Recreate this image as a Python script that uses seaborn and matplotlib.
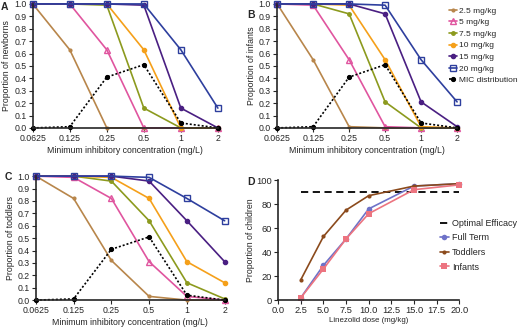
import matplotlib
matplotlib.use('Agg')
import matplotlib.pyplot as plt
import pandas as pd
import seaborn as sns

sns.set_style('ticks')
plt.rcParams['font.family'] = ['Liberation Sans', 'DejaVu Sans']

# MIC categories (mg/L)
mic = [0.0625, 0.125, 0.25, 0.5, 1, 2]
mic_labels = ['0.0625', '0.125', '0.25', '0.5', '1', '2']
doses = ['2.5 mg/kg', '5 mg/kg', '7.5 mg/kg', '10 mg/kg', '15 mg/kg', '20 mg/kg']

# MIC distribution (same in A-C)
mic_dist = [0.0, 0.01, 0.41, 0.51, 0.04, 0.0]

# Panel A: newborns
newborns = {
    '2.5 mg/kg': [1.0, 0.63, 0.0, 0.0, 0.0, 0.0],
    '5 mg/kg': [1.0, 1.0, 0.63, 0.0, 0.0, 0.0],
    '7.5 mg/kg': [1.0, 1.0, 0.99, 0.16, 0.0, 0.0],
    '10 mg/kg': [1.0, 1.0, 1.0, 0.63, 0.0, 0.0],
    '15 mg/kg': [1.0, 1.0, 1.0, 0.99, 0.16, 0.0],
    '20 mg/kg': [1.0, 1.0, 1.0, 1.0, 0.63, 0.16],
}
# Panel B: infants
infants = {
    '2.5 mg/kg': [1.0, 0.55, 0.01, 0.0, 0.0, 0.0],
    '5 mg/kg': [1.0, 0.99, 0.55, 0.01, 0.0, 0.0],
    '7.5 mg/kg': [1.0, 1.0, 0.92, 0.21, 0.0, 0.0],
    '10 mg/kg': [1.0, 1.0, 0.99, 0.55, 0.01, 0.0],
    '15 mg/kg': [1.0, 1.0, 1.0, 0.92, 0.21, 0.01],
    '20 mg/kg': [1.0, 1.0, 1.0, 0.99, 0.55, 0.21],
}
# Panel C: toddlers
toddlers = {
    '2.5 mg/kg': [1.0, 0.82, 0.32, 0.03, 0.0, 0.0],
    '5 mg/kg': [1.0, 0.99, 0.82, 0.31, 0.03, 0.0],
    '7.5 mg/kg': [1.0, 1.0, 0.96, 0.64, 0.14, 0.01],
    '10 mg/kg': [1.0, 1.0, 0.99, 0.82, 0.31, 0.14],
    '15 mg/kg': [1.0, 1.0, 1.0, 0.96, 0.64, 0.31],
    '20 mg/kg': [1.0, 1.0, 1.0, 0.99, 0.82, 0.64],
}

# Panel D: proportion of children reaching target vs dose
dose_d = [2.5, 5.0, 7.5, 10.0, 15.0, 20.0]
full_term = [2, 29, 51, 76, 95, 97]
toddlers_d = [17, 53, 75, 87, 95, 97]
infants_d = [2, 26, 51, 72, 92, 96]
optimal_x = [2.5, 20.0]
optimal_y = [90, 90]

dose_style = {
    '2.5 mg/kg': dict(color='#B8864B', marker='o', ms=2, mfc='#B8864B'),
    '5 mg/kg': dict(color='#E0559F', marker='^', ms=5, mfc='none'),
    '7.5 mg/kg': dict(color='#8C9A1E', marker='o', ms=2.5, mfc='#8C9A1E'),
    '10 mg/kg': dict(color='#F5A01A', marker='o', ms=3, mfc='#F5A01A'),
    '15 mg/kg': dict(color='#4A1F82', marker='o', ms=3, mfc='#4A1F82'),
    '20 mg/kg': dict(color='#2E3F9E', marker='s', ms=5, mfc='none'),
}

fig = plt.figure(figsize=(5.2, 3.28), dpi=100)
fs = 6.3


def mic_panel(ax, data, ylabel):
    for d in doses:
        st = dose_style[d]
        sns.lineplot(x=mic, y=data[d], ax=ax, color=st['color'], lw=1.2,
                     marker=st['marker'], markersize=st['ms'],
                     markerfacecolor=st['mfc'], markeredgecolor=st['color'],
                     markeredgewidth=1, clip_on=False, label=d)
    sns.lineplot(x=mic, y=mic_dist, ax=ax, color='black', lw=1.2,
                 linestyle=(0, (1.2, 1.2)), marker='o', markersize=3,
                 markerfacecolor='black', markeredgecolor='black',
                 clip_on=False, label='MIC distribution')
    ax.set_xscale('log', base=2)
    ax.set_xlim(0.0625, 2)
    ax.set_ylim(0, 1.0)
    ax.set_xticks(mic)
    ax.set_xticklabels(mic_labels)
    ax.minorticks_off()
    ax.set_yticks([i / 10 for i in range(11)])
    ax.set_yticklabels([f'{i / 10:.1f}' for i in range(11)])
    ax.tick_params(labelsize=fs, length=3, width=0.8, pad=1.5)
    ax.set_xlabel('Minimum inhibitory concentration (mg/L)', fontsize=fs, labelpad=2)
    ax.set_ylabel(ylabel, fontsize=fs, labelpad=2)
    for s in ['left', 'bottom']:
        ax.spines[s].set_linewidth(1.2)
    sns.despine(ax=ax)


axA = fig.add_axes([0.063, 0.61, 0.356, 0.378])
mic_panel(axA, newborns, 'Proportion of newborns')
axA.get_legend().remove()

axB = fig.add_axes([0.533, 0.61, 0.346, 0.378])
mic_panel(axB, infants, 'Proportion of infants')
axB.legend(loc='upper left', bbox_to_anchor=(0.8635, 0.979), bbox_transform=fig.transFigure,
           frameon=False, fontsize=6.0, handlelength=0.9, handletextpad=0.35,
           labelspacing=0.45, borderaxespad=0, borderpad=0)

axC = fig.add_axes([0.069, 0.085, 0.363, 0.378])
mic_panel(axC, toddlers, 'Proportion of toddlers')
axC.get_legend().remove()

axD = fig.add_axes([0.535, 0.085, 0.348, 0.366])
sns.lineplot(x=optimal_x, y=optimal_y, ax=axD, color='black', lw=1.3,
             linestyle=(0, (4, 2.5)), label='Optimal Efficacy')
sns.lineplot(x=dose_d, y=full_term, ax=axD, color='#6E72C8', lw=1.2, marker='o',
             markersize=4, markeredgewidth=0, clip_on=False, label='Full Term')
sns.lineplot(x=dose_d, y=toddlers_d, ax=axD, color='#8B4A1C', lw=1.2, marker='o',
             markersize=3, markeredgewidth=0, clip_on=False, label='Toddlers')
sns.lineplot(x=dose_d, y=infants_d, ax=axD, color='#EC7480', lw=1.2, marker='s',
             markersize=4, markeredgewidth=0, clip_on=False, label='Infants')
axD.set_xlim(0, 20)
axD.set_ylim(0, 100)
axD.set_xticks([i * 2.5 for i in range(9)])
axD.set_xticklabels([f'{i * 2.5:.1f}' for i in range(9)])
axD.set_yticks(range(0, 101, 20))
axD.tick_params(labelsize=fs + 0.4, length=3, width=0.8, pad=1.5)
axD.set_xlabel('Linezolid dose (mg/kg)', fontsize=5.7, labelpad=1.5)
axD.set_ylabel('Proportion of children', fontsize=fs, labelpad=1)
for s in ['left', 'bottom']:
    axD.spines[s].set_linewidth(1.2)
sns.despine(ax=axD)
axD.legend(loc='upper left', bbox_to_anchor=(0.846, 0.333), bbox_transform=fig.transFigure,
           frameon=False, fontsize=6.5, handlelength=1.0, handletextpad=0.3,
           labelspacing=0.62, borderaxespad=0, borderpad=0)

for lbl, x, y in [('A', 0.002, 0.995), ('B', 0.476, 0.97), ('C', 0.008, 0.475), ('D', 0.476, 0.46)]:
    fig.text(x, y, lbl, fontsize=7.5, fontweight='bold', va='top')

fig.savefig('out.png', dpi=100)
